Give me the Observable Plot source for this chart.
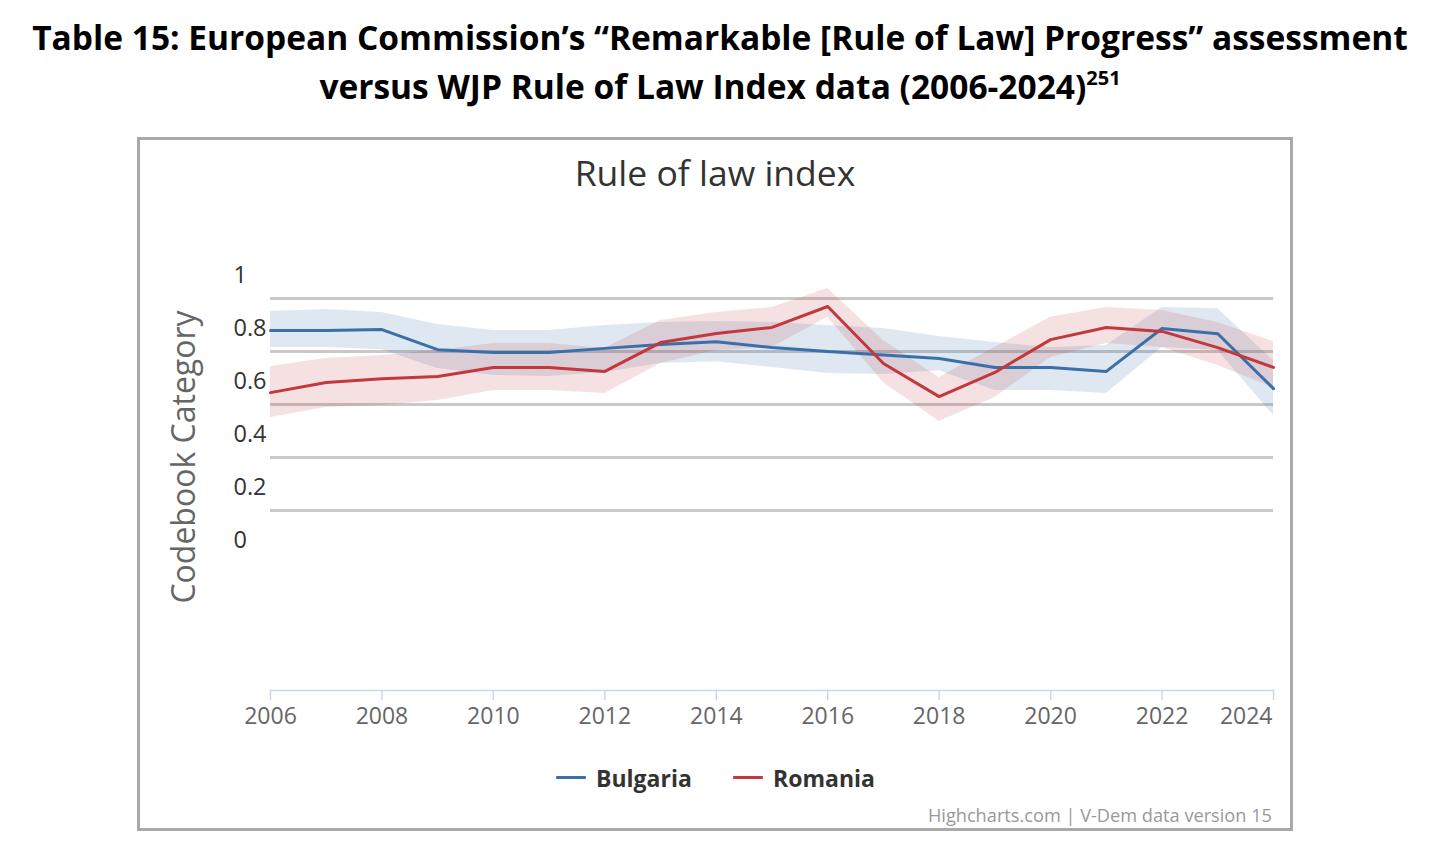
<!DOCTYPE html>
<html>
<head>
<meta charset="utf-8">
<script src="https://cdn.jsdelivr.net/npm/d3@7"></script>
<script src="https://cdn.jsdelivr.net/npm/@observablehq/plot@0.6"></script>
<style>
  body { margin:0; background:#fff; font-family:"Open Sans", sans-serif; width:1440px; height:858px; position:relative; overflow:hidden; }
  .abs { position:absolute; }
</style>
</head>
<body>
<script>
// ---- data ----
const years = [2006,2007,2008,2009,2010,2011,2012,2013,2014,2015,2016,2017,2018,2019,2020,2021,2022,2023,2024];
const bulgaria     = [0.792,0.792,0.796,0.720,0.709,0.709,0.725,0.740,0.750,0.728,0.713,0.700,0.687,0.653,0.653,0.638,0.800,0.780,0.573];
const bulgariaLow  = [0.728,0.728,0.720,0.649,0.623,0.619,0.634,0.668,0.675,0.653,0.630,0.626,0.641,0.566,0.566,0.555,0.728,0.717,0.472];
const bulgariaHigh = [0.864,0.872,0.860,0.815,0.792,0.792,0.811,0.823,0.826,0.823,0.811,0.800,0.770,0.747,0.728,0.736,0.879,0.875,0.679];
const romania      = [0.558,0.596,0.610,0.619,0.653,0.653,0.638,0.747,0.781,0.804,0.883,0.668,0.543,0.634,0.758,0.804,0.789,0.728,0.653];
const romaniaLow   = [0.464,0.502,0.509,0.528,0.566,0.566,0.555,0.668,0.717,0.728,0.842,0.596,0.449,0.540,0.691,0.743,0.728,0.660,0.577];
const romaniaHigh  = [0.657,0.687,0.698,0.717,0.743,0.743,0.725,0.830,0.860,0.879,0.951,0.755,0.615,0.728,0.842,0.879,0.868,0.823,0.751];
const yTicks = [0, 0.2, 0.4, 0.6, 0.8, 1];
const gridTicks = [0.2, 0.4, 0.6, 0.8, 1];
const xTicks = [2006,2008,2010,2012,2014,2016,2018,2020,2022,2024];
const seriesNames = ["Bulgaria", "Romania"];
const seriesColors = ["#3a70aa", "#c2383d"];

const rows = (name, v, lo, hi) => years.map((y, i) => ({series: name, year: y, value: v[i], low: lo[i], high: hi[i]}));
const bg = rows("Bulgaria", bulgaria, bulgariaLow, bulgariaHigh);
const ro = rows("Romania", romania, romaniaLow, romaniaHigh);

// ---- page text ----
const title = document.createElement("div");
title.className = "abs";
title.style.cssText = "top:13px;left:0;width:1440px;text-align:center;font-weight:700;font-size:33.5px;line-height:49px;color:#000;";
title.innerHTML = "Table 15: European Commission’s “Remarkable [Rule of Law] Progress” assessment<br>versus WJP Rule of Law Index data (2006-2024)<sup style='font-size:20px;vertical-align:0;position:relative;top:-14px'>251</sup>";
document.body.appendChild(title);

const box = document.createElement("div");
box.className = "abs";
box.style.cssText = "left:137px;top:137px;width:1156px;height:694px;border:3px solid #a9a9a9;box-sizing:border-box;";
document.body.appendChild(box);

const ctitle = document.createElement("div");
ctitle.className = "abs";
ctitle.style.cssText = "left:140px;top:150px;width:1150px;text-align:center;font-size:35.5px;line-height:44px;color:#333;";
ctitle.textContent = "Rule of law index";
document.body.appendChild(ctitle);

const ytitle = document.createElement("div");
ytitle.className = "abs";
ytitle.style.cssText = "left:183px;top:457px;transform:translate(-50%,-50%) rotate(-90deg);white-space:nowrap;font-size:32px;color:#666;line-height:38px;";
ytitle.textContent = "Codebook Category";
document.body.appendChild(ytitle);

// ---- chart ----
const chart = Plot.plot({
  width: 1148,
  height: 490,
  marginLeft: 129,
  marginRight: 16,
  marginTop: 10,
  marginBottom: 50,
  style: {fontFamily: "'Open Sans', sans-serif", background: "transparent", overflow: "visible"},
  x: {domain: [2006, 2024], axis: null},
  y: {domain: [0, 1], range: [290, 25], axis: null},
  marks: [
    Plot.gridY(gridTicks, {dy: 23, stroke: "#c9c9c9", strokeOpacity: 1, strokeWidth: 3}),
    Plot.areaY(bg, {x: "year", y1: "low", y2: "high", fill: seriesColors[0], fillOpacity: 0.16}),
    Plot.areaY(ro, {x: "year", y1: "low", y2: "high", fill: seriesColors[1], fillOpacity: 0.15}),
    Plot.line(bg, {x: "year", y: "value", stroke: seriesColors[0], strokeWidth: 3}),
    Plot.line(ro, {x: "year", y: "value", stroke: seriesColors[1], strokeWidth: 3}),
    Plot.frame({anchor: "bottom", stroke: "#ccd6eb", strokeWidth: 1.5}),
    Plot.axisX(xTicks, {tickSize: 10, stroke: "#ccd6eb", strokeWidth: 1.5, fill: "none", tickFormat: d => ""}),
    Plot.text(xTicks.slice(0, -1), {x: d => d, frameAnchor: "bottom", dy: 33, text: d => String(d), fontSize: 23, fill: "#666"}),
    Plot.text(xTicks.slice(-1), {x: d => d, frameAnchor: "bottom", dy: 33, dx: -1, textAnchor: "end", text: d => String(d), fontSize: 23, fill: "#666"}),
    Plot.text(yTicks, {y: d => d, frameAnchor: "left", dx: -37, textAnchor: "start", text: d => String(d), fontSize: 23.5, fill: "#333"})
  ]
});
chart.style.position = "absolute";
chart.style.left = "141px";
chart.style.top = "250px";
document.body.appendChild(chart);

// ---- legend ----
const legendPos = [556, 733];
seriesNames.forEach((name, i) => {
  const sym = document.createElement("div");
  sym.className = "abs";
  sym.style.cssText = `left:${legendPos[i]}px;top:776px;width:30px;height:3px;background:${seriesColors[i]};border-radius:1px;`;
  document.body.appendChild(sym);
  const t = document.createElement("div");
  t.className = "abs";
  t.style.cssText = `left:${legendPos[i] + 40}px;top:762px;font-size:23px;line-height:32px;font-weight:700;color:#333;`;
  t.textContent = name;
  document.body.appendChild(t);
});

const credits = document.createElement("div");
credits.className = "abs";
credits.style.cssText = "right:168px;top:802px;font-size:18.2px;line-height:26px;color:#999;white-space:nowrap;";
credits.textContent = "Highcharts.com | V-Dem data version 15";
document.body.appendChild(credits);
</script>
</body>
</html>
